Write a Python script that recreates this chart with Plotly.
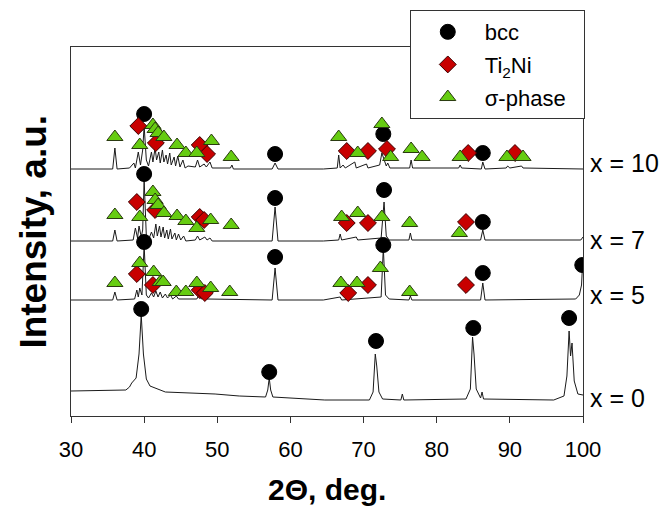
import plotly.graph_objects as go

# ---- XRD patterns (2-theta in deg, intensity in a.u., stacked offsets included) ----
tt_x10 = [30, 35.7, 36.0, 36.3, 38.0, 38.6, 38.8, 39.2, 39.5, 39.8, 40.0, 40.3, 40.6, 41.0, 41.2, 41.5,
          41.7, 42.0, 42.2, 42.5, 42.7, 43.0, 43.2, 43.5, 43.7, 44.1, 44.3, 44.6, 44.9, 45.3, 45.6, 46.0,
          47.0, 47.3, 47.6, 48.2, 48.5, 49.0, 49.3, 51.8, 52.0, 52.2, 57.5, 57.9, 58.3, 64.5, 66.4, 66.6,
          66.8, 67.2, 67.5, 68.8, 69.0, 70.4, 70.6, 72.2, 72.5, 72.8, 73.1, 73.3, 73.6, 76.3, 76.5, 76.7,
          83.0, 83.2, 83.4, 86.1, 86.3, 86.6, 89.5, 89.7, 90.0, 91.6, 91.8, 100]
int_x10 = [247, 247, 268, 247, 248, 253, 248, 264, 251, 266, 290, 256, 250, 264, 254, 268,
           256, 264, 253, 266, 254, 261, 252, 263, 251, 259, 250, 260, 249, 256, 248, 250,
           249, 256, 249, 252, 249, 254, 248, 248, 251, 247, 247, 253, 247, 247, 248, 261,
           248, 251, 248, 254, 248, 252, 248, 251, 263, 256, 250, 253, 248, 248, 256, 248,
           248, 251, 248, 247, 254, 247, 248, 250, 248, 250, 248, 247]

tt_x7 = [30, 35.7, 36.0, 36.3, 38.5, 38.8, 39.1, 39.3, 39.6, 39.8, 40.0, 40.3, 40.6, 41.0, 41.3, 41.6,
         41.8, 42.1, 42.3, 42.6, 42.8, 43.1, 43.3, 43.6, 43.8, 44.2, 44.4, 44.7, 45.0, 45.4, 45.7, 47.0,
         47.3, 47.6, 48.3, 48.6, 49.0, 49.3, 57.5, 57.9, 58.3, 64.5, 66.6, 66.8, 67.0, 69.0, 69.2, 72.4,
         72.8, 73.1, 73.5, 76.2, 76.4, 76.6, 86.0, 86.3, 86.6, 99.7, 100]
int_x7 = [175, 175, 186, 175, 176, 188, 178, 190, 179, 186, 236, 180, 176, 184, 178, 192,
          180, 190, 179, 189, 178, 186, 177, 187, 177, 183, 176, 182, 176, 180, 175, 176,
          180, 176, 179, 176, 178, 175, 175, 209, 175, 175, 176, 182, 176, 179, 176, 178,
          214, 180, 176, 176, 183, 176, 176, 186, 176, 176, 179]

tt_x5 = [30, 35.7, 36.0, 36.3, 38.7, 39.0, 39.2, 39.4, 39.7, 40.0, 40.3, 40.6, 41.0, 41.3, 41.6, 41.9,
         42.2, 42.5, 42.9, 43.2, 43.6, 43.9, 44.4, 44.7, 47.2, 47.5, 47.8, 48.3, 48.6, 57.5, 57.9, 58.3,
         64.5, 66.8, 67.0, 72.4, 72.7, 73.0, 73.5, 76.2, 76.4, 76.6, 86.0, 86.3, 86.6, 99.0, 99.5, 99.8,
         99.95, 100]
int_x5 = [116, 116, 124, 116, 117, 126, 119, 128, 121, 171, 121, 118, 123, 119, 125, 119,
          124, 118, 122, 118, 121, 117, 120, 117, 117, 121, 117, 119, 117, 116, 148, 116,
          116, 119, 116, 119, 168, 121, 117, 116, 120, 116, 116, 133, 116, 117, 121, 131,
          153, 148]

tt_x0 = [30, 37.5, 38.0, 38.3, 38.9, 39.3, 39.6, 39.9, 40.3, 40.8, 42.9, 46.0, 49.7, 53.0, 56.6, 56.9,
         57.1, 57.3, 57.6, 64.7, 70.8, 71.3, 71.6, 71.8, 72.1, 72.6, 75.1, 75.3, 75.5, 84.0, 84.6, 84.9,
         85.1, 85.4, 86.0, 86.2, 86.4, 96.0, 97.4, 97.8, 98.1, 98.3, 98.5, 98.8, 99.3, 100]
int_x0 = [25, 26, 29, 33, 38, 62, 101, 62, 37, 30, 24, 23, 22, 20, 19, 26,
          38, 26, 19, 16, 16, 24, 62, 50, 24, 17, 16, 22, 16, 17, 27, 79,
          62, 27, 18, 24, 17, 16, 20, 40, 85, 60, 73, 35, 22, 21]

pattern_names = ["x = 10", "x = 7", "x = 5", "x = 0"]
label_int = [253, 176, 121, 18]

# ---- phase markers ----
bcc_tt = [39.6, 57.1, 71.7, 85.0, 98.1,
          40.0, 57.9, 72.7, 86.3, 99.9,
          40.0, 57.9, 72.8, 86.3,
          40.0, 57.9, 72.7, 86.3]
bcc_int = [107, 44, 75, 88, 98,
           174, 159, 171, 143, 151,
           242, 218, 226, 194,
           302, 262, 282, 263]

ti2ni_tt = [39.0, 41.2, 47.6, 48.3, 67.9, 70.6, 84.0,
            39.0, 41.5, 47.6, 48.2, 67.7, 70.6, 84.0,
            39.2, 41.6, 47.6, 48.6, 67.7, 70.6, 73.2, 84.3, 90.7]
ti2ni_int = [142, 131, 126, 123, 123, 131, 131,
             214, 206, 199, 196, 193, 193, 194,
             290, 273, 271, 262, 265, 265, 267, 263, 263]

sigma_tt = [36.0, 39.4, 41.3, 42.2, 42.6, 44.4, 45.7, 47.2, 49.1, 51.7, 66.9, 69.1, 72.3, 76.3,
            36.0, 39.4, 41.2, 41.5, 41.9, 42.7, 44.5, 45.7, 47.2, 49.1, 51.9, 67.0, 69.2, 72.5, 76.3, 83.1,
            36.0, 39.4, 41.2, 41.5, 41.9, 42.7, 44.5, 45.7, 47.2, 49.2, 51.9, 66.6, 69.2, 72.5, 73.7,
            76.5, 78.0, 83.2, 89.6, 91.8]
sigma_int = [133, 153, 144, 134, 134, 124, 124, 133, 128, 124, 133, 133, 148, 124,
             201, 199, 224, 216, 211, 203, 200, 195, 188, 196, 191, 199, 203, 199, 193, 183,
             279, 271, 291, 287, 283, 279, 271, 263, 263, 275, 259, 279, 263, 292, 259,
             267, 259, 259, 259, 259]

x_ticks = [30, 40, 50, 60, 70, 80, 90, 100]

FONT = "Liberation Sans, Arial, sans-serif"

fig = go.Figure()
for tt, iv in [(tt_x10, int_x10), (tt_x7, int_x7), (tt_x5, int_x5), (tt_x0, int_x0)]:
    fig.add_trace(go.Scatter(x=tt, y=iv, mode="lines", line=dict(color="#1a1a1a", width=1),
                             showlegend=False, hoverinfo="skip"))

fig.add_trace(go.Scatter(x=bcc_tt, y=bcc_int, mode="markers", name="bcc", legendgroup="a",
                         marker=dict(symbol="circle", size=15, color="black",
                                     line=dict(color="black", width=1))))
fig.add_trace(go.Scatter(x=ti2ni_tt, y=ti2ni_int, mode="markers", name="Ti<sub>2</sub>Ni", legendgroup="b",
                         marker=dict(symbol="diamond", size=13, color="#C80000",
                                     line=dict(color="#3a0000", width=1))))
fig.add_trace(go.Scatter(x=sigma_tt, y=sigma_int, mode="markers", name="σ-phase\u00a0\u00a0", legendgroup="c",
                         marker=dict(symbol="triangle-up", size=14, color="#66CC11",
                                     line=dict(color="#2a3a10", width=1))))

for name, yv in zip(pattern_names, label_int):
    fig.add_annotation(x=1.01, xref="paper", y=yv, yref="y", text=name, showarrow=False,
                       xanchor="left", yanchor="middle", font=dict(size=25, color="black", family=FONT))

fig.add_annotation(x=0.5, xref="paper", y=-0.2, yref="paper", text="<b>2Θ, deg.</b>", showarrow=False,
                   xanchor="center", yanchor="middle", font=dict(size=30, color="black", family=FONT))
fig.add_annotation(x=-0.074, xref="paper", y=0.5, yref="paper", text="<b>Intensity, a.u.</b>",
                   showarrow=False, textangle=-90, xanchor="center", yanchor="middle",
                   font=dict(size=37, color="black", family=FONT))

# page body has an 8 px default margin, so the figure is 8 px smaller and margins shifted
fig.update_layout(
    width=663, height=507,
    margin=dict(l=63, r=88, t=39, b=99, autoexpand=False),
    paper_bgcolor="white", plot_bgcolor="white",
    font=dict(family=FONT, color="black"),
    showlegend=True,
    legend=dict(x=0.606, y=0.996, xref="container", yref="container", xanchor="left", yanchor="top",
                bgcolor="white", bordercolor="#333333", borderwidth=1,
                font=dict(size=22, family=FONT, color="black"),
                tracegroupgap=1, itemwidth=64),
    xaxis=dict(range=[30, 100], tickvals=x_ticks, ticks="outside", ticklen=6, tickcolor="#333333",
               showline=True, linecolor="#333333", linewidth=1, mirror=True, showgrid=False,
               zeroline=False, ticklabelstandoff=8,
               tickfont=dict(size=22, family=FONT, color="black")),
    yaxis=dict(range=[0, 369], showticklabels=False, ticks="", showline=True, linecolor="#333333",
               linewidth=1, mirror=True, showgrid=False, zeroline=False),
)

fig.write_html("out.html")
